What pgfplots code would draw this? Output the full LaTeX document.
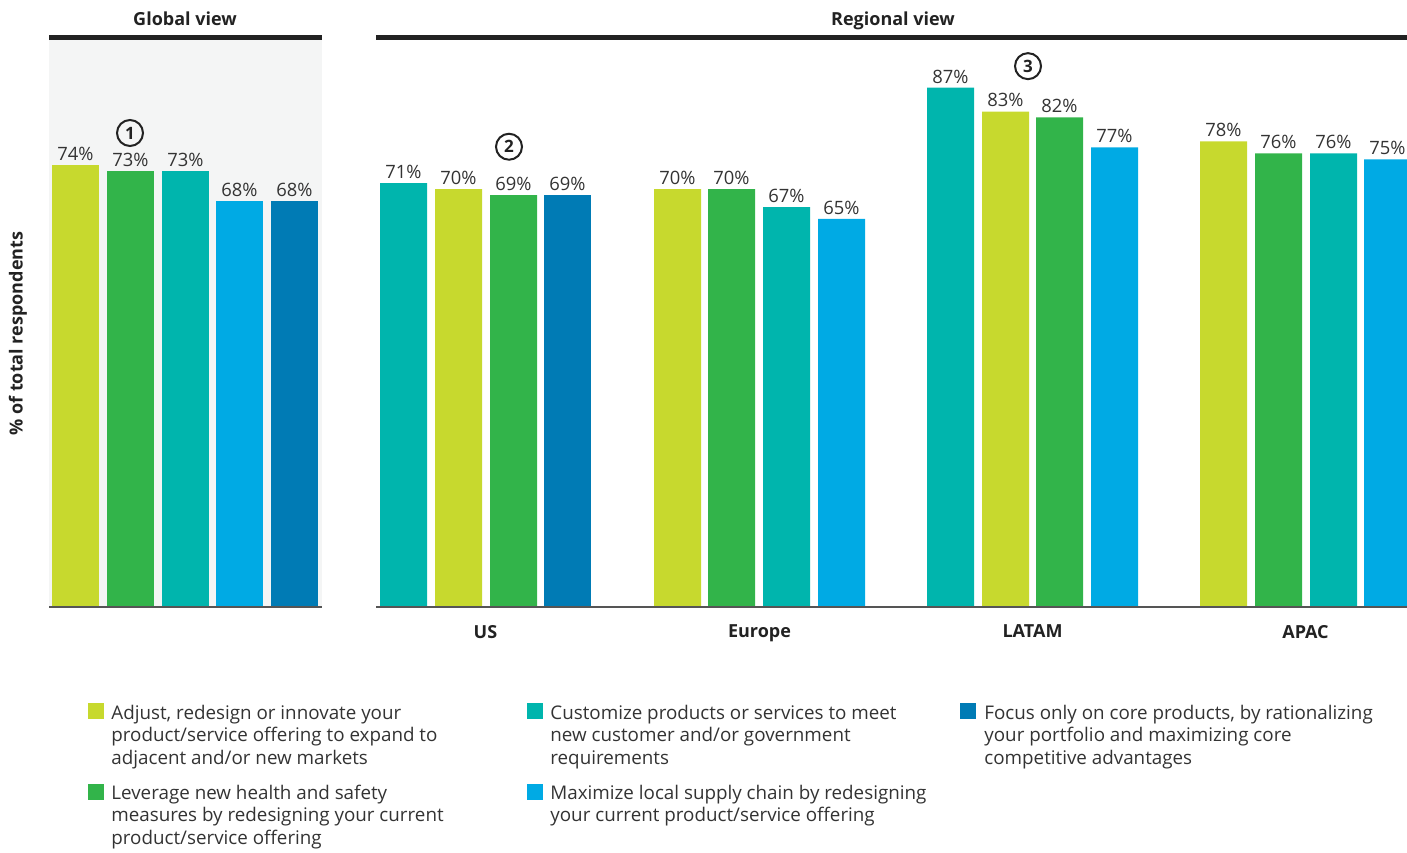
\documentclass[border=0pt]{standalone}
\usepackage{fontspec}
\setmainfont{Open Sans}
\usepackage{pgfplots}
\pgfplotsset{compat=1.18}
\definecolor{clime}{RGB}{199,217,46}
\definecolor{cgreen}{RGB}{50,180,74}
\definecolor{cteal}{RGB}{0,181,173}
\definecolor{clblue}{RGB}{0,170,228}
\definecolor{cdblue}{RGB}{0,123,181}
\definecolor{bggray}{RGB}{244,245,245}
\definecolor{txt}{RGB}{51,51,51}
\definecolor{dark}{RGB}{34,34,34}
\definecolor{base}{RGB}{85,85,85}
\pgfplotsset{
  barax/.style={
    scale only axis, height=283.575pt, ymin=0, ymax=95,
    axis line style={draw=none}, ytick=\empty, major tick length=0pt,
    /pgf/number format/assume math mode=true,
    nodes near coords={\pgfmathprintnumber{\pgfplotspointmeta}\%},
    nodes near coords style={font=\fontsize{9.2pt}{11pt}\selectfont, text=txt, inner sep=2pt, anchor=south},
  },
  bb/.style={ybar, bar width=47, bar shift=0pt, draw=none, fill=#1},
}
\begin{document}
\begin{tikzpicture}
\path[use as bounding box] (0,0) rectangle (703.5pt,-426pt);
% Global
\begin{axis}[barax, at={(24.5pt,-303.5pt)}, anchor=south west,
  width=136.5pt, xmin=49, xmax=322, xtick=\empty,
  axis background/.style={fill=bggray}]
\addplot[bb=clime] coordinates {(75.5,74)};
\addplot[bb=cgreen] coordinates {(130.5,73)};
\addplot[bb=cteal] coordinates {(185.5,73)};
\addplot[bb=clblue] coordinates {(239.5,68)};
\addplot[bb=cdblue] coordinates {(294.5,68)};
\node[circle, draw=dark, line width=1pt, minimum size=13pt, inner sep=0pt, font=\bfseries\fontsize{8.5pt}{10pt}\selectfont, text=dark] at (axis cs:130,79.4) {1};
\end{axis}
% Regional
\begin{axis}[barax, at={(188pt,-303.5pt)}, anchor=south west,
  width=515.5pt, xmin=376, xmax=1407,
  xtick={485.5,759.5,1032.5,1305.5}, xticklabels={US,Europe,LATAM,APAC},
  xticklabel style={font=\bfseries\fontsize{9pt}{11pt}\selectfont, text=dark, yshift=-5.5pt}]
\addplot[bb=clime] coordinates {(458.5,70) (677.5,70) (1005.5,83) (1223.5,78)};
\addplot[bb=cgreen] coordinates {(513.5,69) (731.5,70) (1059.5,82) (1278.5,76)};
\addplot[bb=cteal] coordinates {(403.5,71) (786.5,67) (950.5,87) (1333.5,76)};
\addplot[bb=clblue] coordinates {(841.5,65) (1114.5,77) (1387.5,75)};
\addplot[bb=cdblue] coordinates {(567.5,69)};
\node[circle, draw=dark, line width=1pt, minimum size=13pt, inner sep=0pt, font=\bfseries\fontsize{8.5pt}{10pt}\selectfont, text=dark] at (axis cs:509,77.1) {2};
\node[circle, draw=dark, line width=1pt, minimum size=13pt, inner sep=0pt, font=\bfseries\fontsize{8.5pt}{10pt}\selectfont, text=dark] at (axis cs:1028,90.6) {3};
\end{axis}
% baselines and header rules
\draw[base, line width=1pt] (24.5pt,-303.5pt) -- (161pt,-303.5pt);
\draw[base, line width=1pt] (188pt,-303.5pt) -- (703.5pt,-303.5pt);
\draw[dark, line width=2.5pt] (24.5pt,-18.75pt) -- (161pt,-18.75pt);
\draw[dark, line width=2.5pt] (188pt,-18.75pt) -- (703.5pt,-18.75pt);
\node[anchor=base, font=\bfseries\fontsize{9pt}{11pt}\selectfont, text=dark] at (92.5pt,-12.5pt) {Global view};
\node[anchor=base, font=\bfseries\fontsize{9pt}{11pt}\selectfont, text=dark] at (446.5pt,-12.5pt) {Regional view};
\node[rotate=90, font=\bfseries\fontsize{9pt}{11pt}\selectfont, text=dark] at (9pt,-166.8pt) {\% of total respondents};
% legend
\begin{scope}[every node/.style={font=\fontsize{9.4pt}{11.1pt}\selectfont, text=txt, align=left, anchor=base west, inner sep=0pt}]
\fill[clime] (44pt,-351.5pt) rectangle (52pt,-359.5pt);
\node at (55.5pt,-382pt) {Adjust, redesign or innovate your\\product/service offering to expand to\\adjacent and/or new markets};
\fill[cgreen] (44pt,-392pt) rectangle (52pt,-400pt);
\node at (55.5pt,-422pt) {Leverage new health and safety\\measures by redesigning your current\\product/service offering};
\fill[cteal] (263.5pt,-351.5pt) rectangle (271.5pt,-359.5pt);
\node at (275pt,-382pt) {Customize products or services to meet\\new customer and/or government\\requirements};
\fill[clblue] (263.5pt,-392pt) rectangle (271.5pt,-400pt);
\node at (275pt,-410.9pt) {Maximize local supply chain by redesigning\\your current product/service offering};
\fill[cdblue] (480pt,-351.5pt) rectangle (488pt,-359.5pt);
\node at (492pt,-382pt) {Focus only on core products, by rationalizing\\your portfolio and maximizing core\\competitive advantages};
\end{scope}
\end{tikzpicture}
\end{document}
